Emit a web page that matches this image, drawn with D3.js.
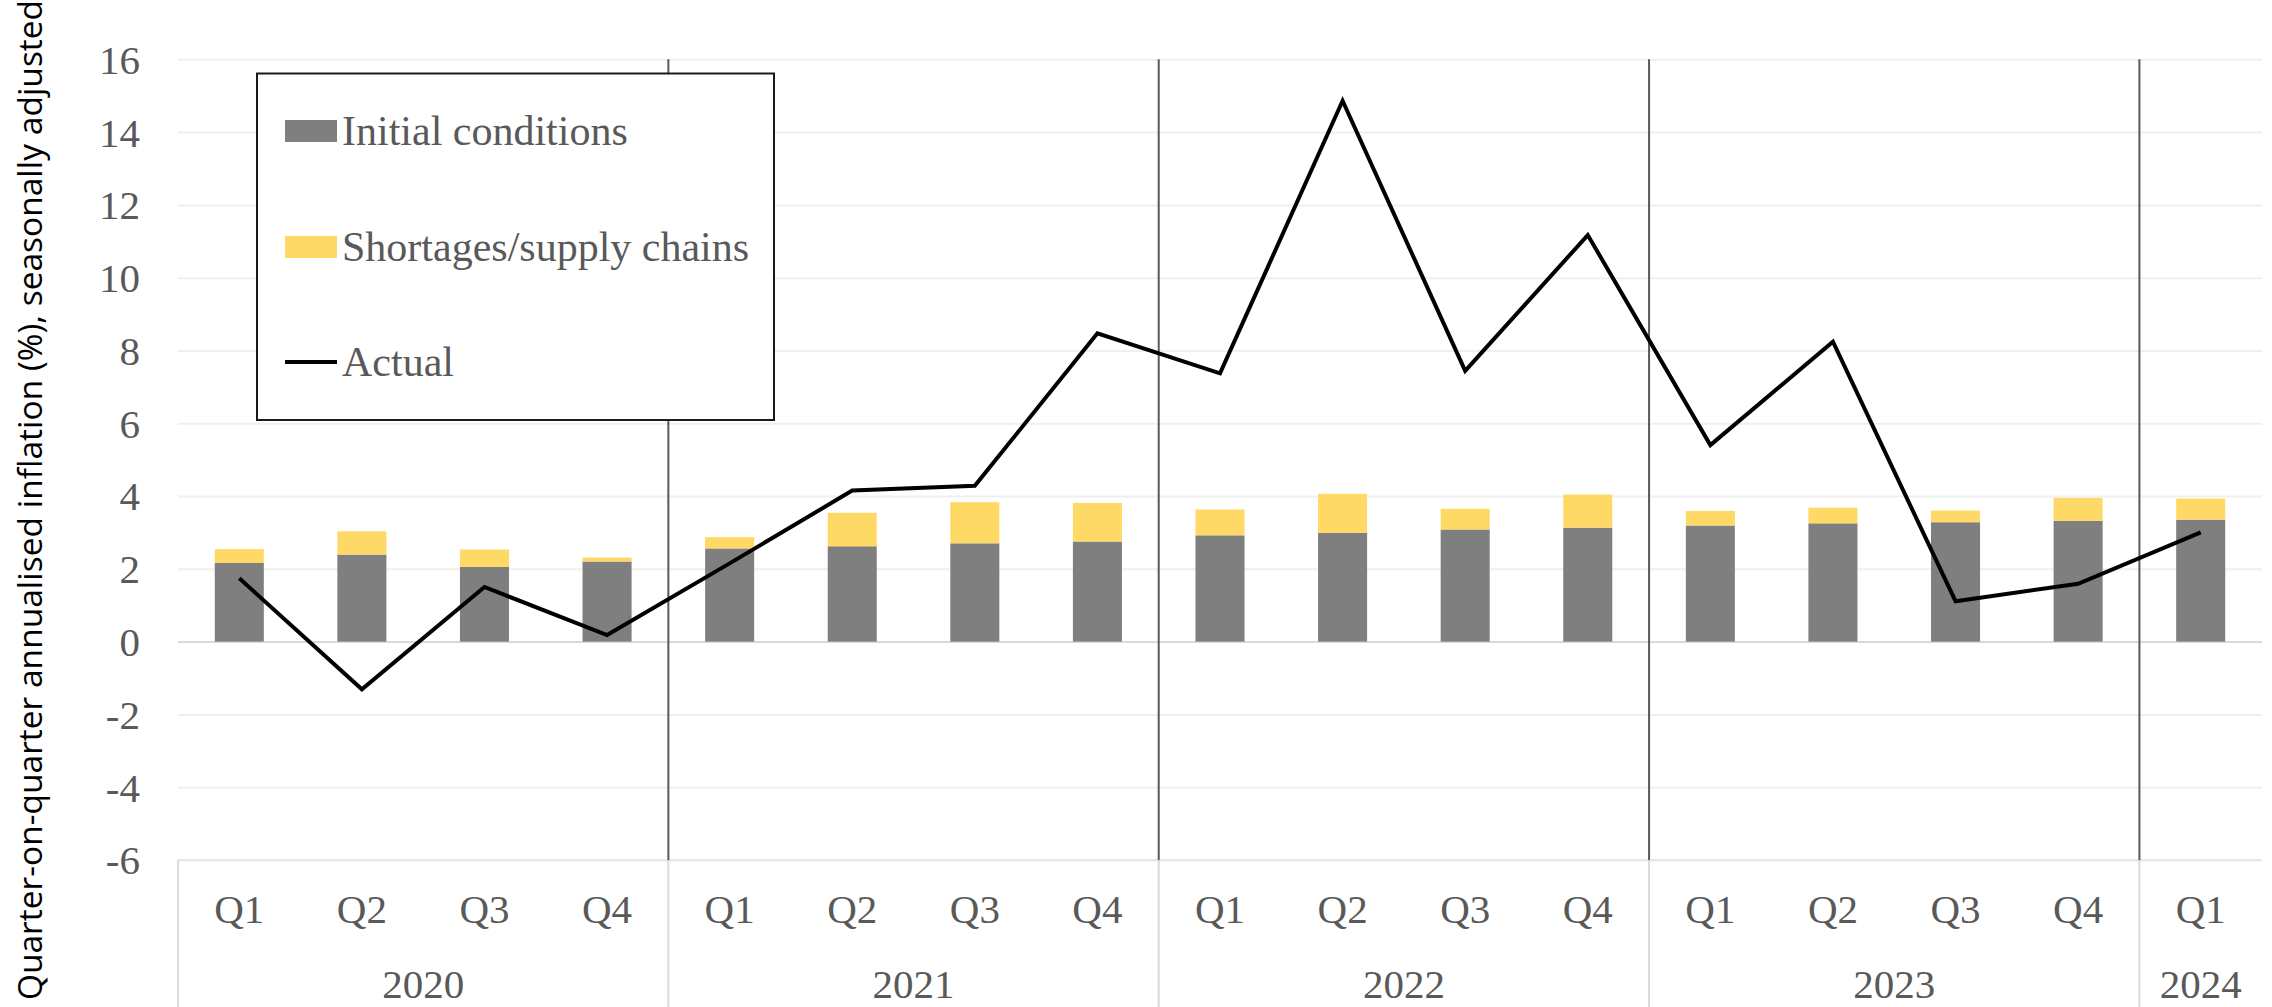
<!DOCTYPE html>
<html>
<head>
<meta charset="utf-8">
<script src="https://cdn.jsdelivr.net/npm/d3@7"></script>
<style>
  html, body { margin: 0; padding: 0; background: #fff; }
  svg { display: block; }
</style>
</head>
<body>
<svg id="chart" width="2272" height="1007"></svg>
<script>
// ---- Data ----
const quarters = ["Q1","Q2","Q3","Q4","Q1","Q2","Q3","Q4","Q1","Q2","Q3","Q4","Q1","Q2","Q3","Q4","Q1"];
const years = ["2020","2021","2022","2023","2024"];
const yearQuarterCounts = [4,4,4,4,1];
const initialConditions = [2.16, 2.39, 2.05, 2.20, 2.56, 2.62, 2.70, 2.75, 2.92, 2.99, 3.08, 3.13, 3.19, 3.25, 3.28, 3.32, 3.35];
const shortagesSupply   = [0.38, 0.64, 0.48, 0.11, 0.31, 0.92, 1.13, 1.06, 0.71, 1.07, 0.57, 0.91, 0.40, 0.43, 0.32, 0.63, 0.58];
const actual            = [1.74, -1.31, 1.50, 0.18, 2.15, 4.15, 4.28, 8.47, 7.37, 14.86, 7.44, 11.17, 5.40, 8.24, 1.11, 1.59, 3.00];
const yTicks = [-6,-4,-2,0,2,4,6,8,10,12,14,16];
const yTickLabels = ["-6","-4","-2","0","2","4","6","8","10","12","14","16"];
const seriesNames = ["Initial conditions", "Shortages/supply chains", "Actual"];
const yLabel = "Quarter-on-quarter annualised inflation (%), seasonally adjusted";

(function () {
// ---- Layout ----
const pLeft = 178, pRight = 2262, pTop = 59.3, zeroY = 641.6;
const unit = (zeroY - pTop) / 16;
const pBottom = zeroY + 6 * unit;
const svg = d3.select("#chart");
const textColor = "#595959";
const serif = "'Liberation Serif', 'Times New Roman', serif";

const idx = d3.range(quarters.length);
const x = d3.scaleBand().domain(idx).range([pLeft, pRight]).paddingInner(0.6).paddingOuter(0.3);
const y = d3.scaleLinear().domain([-6, 16]).range([pBottom, pTop]);
const step = x.step();
const slotLeft = i => x(i) - (step - x.bandwidth()) / 2;

// gridlines
const grid = svg.append("g").attr("transform", `translate(${pLeft},0)`)
  .call(d3.axisLeft(y).tickValues(yTicks).tickSize(-(pRight - pLeft)).tickFormat(""));
grid.select(".domain").remove();
grid.selectAll(".tick line")
  .attr("stroke", d => d === 0 ? "#d9d9d9" : "#efefef")
  .attr("stroke-width", 2);

// y tick labels
const yAxis = svg.append("g").attr("transform", `translate(${pLeft - 38},0)`)
  .call(d3.axisLeft(y).tickValues(yTicks).tickSize(0).tickPadding(0)
    .tickFormat(d => yTickLabels[yTicks.indexOf(d)]));
yAxis.select(".domain").remove();
yAxis.selectAll("text")
  .attr("font-family", serif).attr("font-size", 41).attr("fill", textColor)
  .attr("dy", "0.34em");

// bars
const stackData = idx.map(i => ({ i, a: initialConditions[i], b: shortagesSupply[i] }));
svg.append("g").selectAll("rect").data(stackData).join("rect")
  .attr("x", d => x(d.i)).attr("width", x.bandwidth())
  .attr("y", d => y(d.a)).attr("height", d => y(0) - y(d.a))
  .attr("fill", "#7f7f7f");
svg.append("g").selectAll("rect").data(stackData).join("rect")
  .attr("x", d => x(d.i)).attr("width", x.bandwidth())
  .attr("y", d => y(d.a + d.b)).attr("height", d => y(d.a) - y(d.a + d.b))
  .attr("fill", "#ffd966");

// axis box (category area)
const axisG = svg.append("g");
axisG.append("line").attr("x1", pLeft).attr("x2", pRight).attr("y1", y(-6)).attr("y2", y(-6))
  .attr("stroke", "#e6e6e6").attr("stroke-width", 2);
axisG.append("line").attr("x1", pLeft).attr("x2", pLeft).attr("y1", y(-6)).attr("y2", 1007)
  .attr("stroke", "#d9d9d9").attr("stroke-width", 2);

// year boundaries
let cum = 0;
const boundaries = [];
yearQuarterCounts.forEach(c => { cum += c; boundaries.push(cum); });
const innerBounds = boundaries.slice(0, -1);
svg.append("g").selectAll("line").data(innerBounds).join("line")
  .attr("x1", b => slotLeft(b)).attr("x2", b => slotLeft(b))
  .attr("y1", y(16)).attr("y2", y(-6))
  .attr("stroke", "#595959").attr("stroke-width", 2);
svg.append("g").selectAll("line").data(innerBounds).join("line")
  .attr("x1", b => slotLeft(b)).attr("x2", b => slotLeft(b))
  .attr("y1", y(-6)).attr("y2", 1007)
  .attr("stroke", "#d9d9d9").attr("stroke-width", 2);

// quarter labels
const xAxis = svg.append("g").attr("transform", `translate(0,${y(-6)})`)
  .call(d3.axisBottom(x).tickSize(0).tickPadding(0).tickFormat(i => quarters[i]));
xAxis.select(".domain").remove();
xAxis.selectAll("text")
  .attr("font-family", serif).attr("font-size", 41).attr("fill", textColor)
  .attr("y", 63).attr("dy", 0);

// year labels
let start = 0;
const yearPos = years.map((yr, k) => {
  const s = start, e = start + yearQuarterCounts[k];
  start = e;
  return { yr, cx: (slotLeft(s) + (e < quarters.length ? slotLeft(e) : pRight)) / 2 };
});
svg.append("g").selectAll("text").data(yearPos).join("text")
  .attr("x", d => d.cx).attr("y", 998)
  .attr("text-anchor", "middle")
  .attr("font-family", serif).attr("font-size", 41).attr("fill", textColor)
  .text(d => d.yr);

// actual line
const line = d3.line().x((d, i) => x(i) + x.bandwidth() / 2).y(d => y(d));
svg.append("path").datum(actual)
  .attr("d", line).attr("fill", "none")
  .attr("stroke", "#000").attr("stroke-width", 4)
  .attr("stroke-linejoin", "miter");

// legend
const lg = svg.append("g");
lg.append("rect").attr("x", 257).attr("y", 73.5).attr("width", 517).attr("height", 346.5)
  .attr("fill", "#fff").attr("stroke", "#1a1a1a").attr("stroke-width", 2);
const legendY = [131, 247, 362];
lg.append("rect").attr("x", 285).attr("y", legendY[0] - 11).attr("width", 52).attr("height", 22).attr("fill", "#7f7f7f");
lg.append("rect").attr("x", 285).attr("y", legendY[1] - 11).attr("width", 52).attr("height", 22).attr("fill", "#ffd966");
lg.append("line").attr("x1", 285).attr("x2", 337).attr("y1", legendY[2]).attr("y2", legendY[2])
  .attr("stroke", "#000").attr("stroke-width", 4);
lg.selectAll("text").data(seriesNames).join("text")
  .attr("x", 342).attr("y", (d, i) => legendY[i] + 14)
  .attr("font-family", serif).attr("font-size", 42).attr("fill", textColor)
  .text(d => d);

// y axis title
svg.append("text")
  .attr("transform", "translate(42,500) rotate(-90)")
  .attr("text-anchor", "middle")
  .attr("font-family", "'Open Sans', sans-serif").attr("font-size", 33.5).attr("fill", "#000")
  .text(yLabel);
})();
</script>
</body>
</html>
